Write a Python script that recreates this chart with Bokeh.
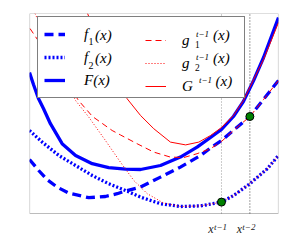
from bokeh.plotting import figure
from bokeh.models import Range1d, Legend, LegendItem, BoxAnnotation
from bokeh.embed import file_html
from bokeh.resources import INLINE

# ---- data ----
f1_x = [0, 0.37, 0.71, 1.11, 1.58, 2.38, 3.05, 3.52, 3.86, 4.46, 5.26, 6.06, 6.87, 7.27, 7.71, 8.85, 10]
f1_y = [2.7, 2.15, 1.69, 1.32, 1.02, 0.79, 0.85, 0.99, 1.13, 1.32, 1.82, 2.32, 2.9, 3.28, 3.65, 4.85, 6.65]

f2_x = [0, 0.51, 1.18, 1.85, 2.52, 3.18, 3.86, 4.46, 5.26, 6.06, 6.87, 7.71, 8.2, 8.85, 9.55, 10]
f2_y = [4.15, 3.57, 2.9, 2.4, 1.9, 1.49, 1.15, 0.82, 0.49, 0.35, 0.38, 0.57, 0.9, 1.49, 2.24, 2.9]

F_x = [0, 0.16, 0.36, 0.56, 0.84, 1.31, 1.85, 2.52, 3.18, 3.86, 4.46, 5.26, 6.06, 6.73, 7.27, 7.71, 8.19, 8.59, 9.0, 9.4, 10]
F_y = [7.05, 6.45, 5.75, 5.25, 4.49, 3.49, 2.9, 2.49, 2.29, 2.22, 2.2, 2.4, 2.82, 3.32, 3.8, 4.2, 4.85, 5.6, 6.65, 7.8, 9.8]

g1_x = [0.02, 1.97, 2.53, 3.32, 3.65, 4.32, 4.99, 5.66, 6.2, 6.73, 7.27, 7.71, 8.19, 8.85, 9.4, 10]
g1_y = [9.25, 5.65, 4.85, 4.15, 3.93, 3.49, 3.07, 2.82, 2.8, 2.99, 3.24, 3.6, 4.15, 4.85, 5.7, 6.65]

g2_x = [0.22, 1.85, 2.38, 3.05, 3.65, 4.19, 4.73, 5.39, 6.06, 6.87, 7.71, 8.2, 8.85, 9.55, 10]
g2_y = [10.0, 5.65, 4.82, 3.65, 2.57, 1.65, 0.99, 0.52, 0.35, 0.38, 0.57, 0.9, 1.49, 2.24, 2.9]

G_x = [2.33, 2.45, 3.92, 4.46, 4.99, 5.66, 6.27, 6.8, 7.27, 7.71, 8.19, 8.59, 9.0, 9.4, 10]
G_y = [10.0, 9.65, 5.74, 4.9, 4.24, 3.57, 3.43, 3.57, 3.9, 4.3, 4.9, 5.65, 6.7, 7.7, 9.55]

iter_x = [7.71, 8.85]            # x^{t-1}, x^{t-2}
iter_base = ["x", "x"]
iter_sup = ["t−1", "t−2"]
iter_colors = ["#999999", "#444444"]
dot_x = [7.71, 8.85]
dot_y = [0.57, 4.85]

# legend texts, split into pieces
left_main = ["f", "f", "F(x)"]
left_sub = ["1", "2"]
right_main = ["g", "g", "G"]
right_sub = ["1", "2"]
right_sup = ["t−1", "t−1"]
G_sup = "t−1"
arg_text = "(x)"

X0, X1 = 0, 10          # plotted box (data units)
Y0, Y1 = 0, 10
Y_LOW = -1.6            # room under the box for the tick labels

BLUE = "#0000ff"
RED = "#ff0000"
FONT = "Liberation Serif"
TICK_TXT = "#222222"
PX_PER_X = 24.9         # frame pixels per x unit (249 px / 10)
BOTTOM = 32             # px between the plotted box and the bottom of the frame

p = figure(width=283, height=245, x_range=Range1d(X0, X1), y_range=Range1d(Y_LOW, Y1),
           output_backend="svg", toolbar_location=None,
           x_axis_location=None, y_axis_location=None,
           min_border_left=29, min_border_right=5, min_border_top=13, min_border_bottom=0)
p.grid.visible = False
p.outline_line_color = None
p.background_fill_color = "white"
p.border_fill_color = "white"

# the plot box
p.add_layout(BoxAnnotation(left=X0, right=X1, bottom=Y0, top=Y1, fill_alpha=0,
                           line_color="#222222", line_width=1.2))

# dotted lines at the iterates
p.segment(x0=iter_x, y0=[Y0] * 2, x1=iter_x, y1=[Y1] * 2, line_color=iter_colors,
          line_dash="1 2", line_width=1)

r_f1 = p.line(f1_x, f1_y, line_color=BLUE, line_width=3.3, line_dash="9 5")
r_f2 = p.line(f2_x, f2_y, line_color=BLUE, line_width=3.3, line_dash="2 2")
r_F = p.line(F_x, F_y, line_color=BLUE, line_width=3.3)
r_g1 = p.line(g1_x, g1_y, line_color=RED, line_width=1, line_dash="6 4")
r_g2 = p.line(g2_x, g2_y, line_color=RED, line_width=1, line_dash="1 2")
r_G = p.line(G_x, G_y, line_color=RED, line_width=1)

p.scatter(dot_x, dot_y, size=8, fill_color="#008000", line_color="black", line_width=1)

common = dict(margin=0, glyph_width=21, glyph_height=22, label_height=22, spacing=1,
              label_text_font=FONT, label_text_font_style="italic",
              label_text_font_size="15px", label_text_color="black",
              label_text_baseline="middle")

legA = Legend(items=[LegendItem(label=t, renderers=[r])
                     for t, r in zip(left_main, (r_f1, r_f2, r_F))],
              location=(8, 115 + BOTTOM), padding=6, label_standoff=19, label_width=154,
              border_line_color="black", border_line_width=1,
              background_fill_color="white", background_fill_alpha=1.0, **common)
legB = Legend(items=[LegendItem(label=t, renderers=[r])
                     for t, r in zip(right_main, (r_g1, r_g2, r_G))],
              location=(116, 116 + BOTTOM), padding=5, label_standoff=16, label_width=40,
              border_line_color=None,
              background_fill_color="white", background_fill_alpha=1.0, **common)
p.add_layout(legA, "center")
p.add_layout(legB, "center")


# text-only legends for the remaining pieces (no glyph drawn: glyph_width=0)
def text_legend(texts, rends, loc, style, size, height, pitch=23, baseline="alphabetic",
                color="black"):
    lg = Legend(items=[LegendItem(label=t, renderers=[r]) for t, r in zip(texts, rends)],
                location=(loc[0], loc[1] + BOTTOM), margin=0, padding=0, glyph_width=0,
                glyph_height=height, label_height=height, label_width=5, label_standoff=0,
                spacing=pitch - height,
                label_text_font=FONT, label_text_font_style=style,
                label_text_font_size=size, label_text_color=color,
                label_text_baseline=baseline,
                border_line_color=None, background_fill_alpha=0.0)
    p.add_layout(lg, "center")


# positions are offsets (px) from the plot box's bottom-left corner
text_legend([arg_text] * 2, [r_f1, r_f2], (66, 144), "italic", "15px", 22, baseline="middle")
text_legend(left_sub, [r_f1, r_f2], (59.5, 142.5), "normal", "10px", 10)
text_legend(right_sub, [r_g1, r_g2], (166, 140.5), "normal", "9.5px", 10)
text_legend(right_sup, [r_g1, r_g2], (167, 151.5), "italic", "9px", 10)
text_legend([G_sup], [r_G], (170, 128.5), "italic", "9px", 10)
text_legend([arg_text] * 2, [r_g1, r_g2], (184, 144), "italic", "15px", 22, baseline="middle")
text_legend([arg_text], [r_G], (186.5, 121), "italic", "15px", 22, baseline="middle")

# tick labels under the box, placed from the iterate positions
for xv, b, s, r in zip(iter_x, iter_base, iter_sup, (r_f1, r_f2)):
    sx = (xv - X0) * PX_PER_X
    text_legend([b], [r], (sx - 12.7, -24), "italic", "12px", 10, color=TICK_TXT)
    text_legend([s], [r], (sx - 7, -19), "italic", "9px", 10, color=TICK_TXT)

open("out.html", "w").write(file_html(p, INLINE))
